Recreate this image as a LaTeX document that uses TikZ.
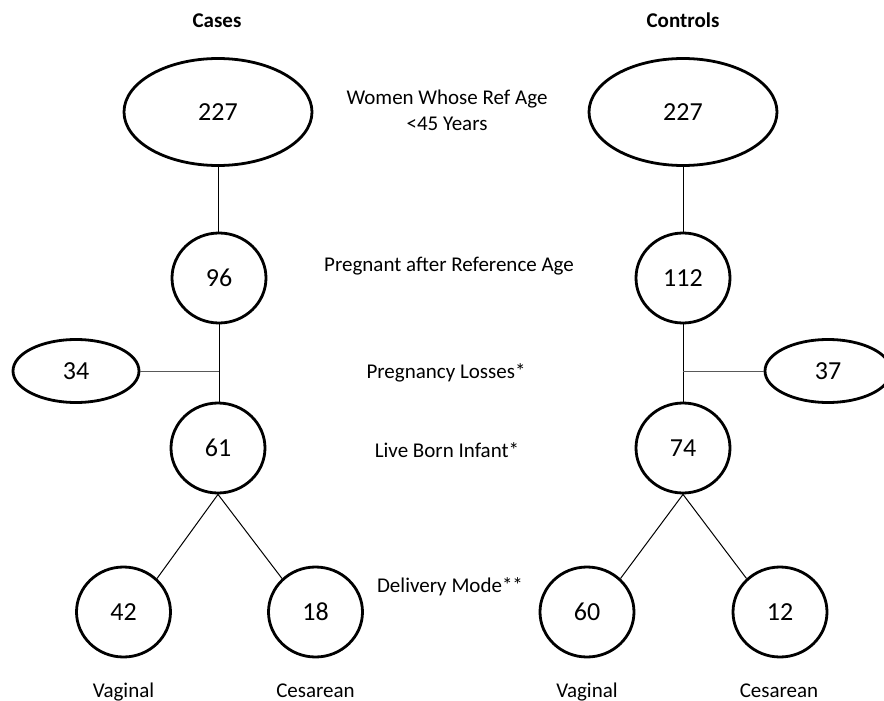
\documentclass[tikz,border=0pt]{standalone}
\usepackage{fontspec}
\setmainfont{Carlito}
\usetikzlibrary{shapes.geometric}
\begin{document}
\begin{tikzpicture}[x=1pt,y=-1pt,
  bub/.style={draw, ellipse, line width=2.8pt, inner sep=0pt, font=\fontsize{26}{30}\selectfont},
  big/.style={bub, minimum width=188pt, minimum height=107pt},
  rnd/.style={bub, minimum width=94pt, minimum height=90pt},
  loss/.style={bub, minimum width=126pt, minimum height=63pt},
  lbl/.style={anchor=base, inner sep=0pt, font=\fontsize{21}{25}\selectfont},
  hdr/.style={anchor=base, inner sep=0pt, font=\bfseries\fontsize{21}{25}\selectfont},
  link/.style={line width=1pt},
  side/.style={line width=1pt, black!65}]
\useasboundingbox (0,0) rectangle (884,701);
\fill[white] (0,0) rectangle (884,701);

% headers
\node[hdr] (hcases) at (217,28) {Cases};
\node[hdr] (hcontrols) at (683,28) {Controls};

% middle labels
\node[lbl] (lwomen) at (447,104) {Women Whose Ref Age};
\node[lbl] (lyears) at (447,130) {<45 Years};
\node[lbl] (lpreg) at (449,271) {Pregnant after Reference Age};
\node[lbl] (lloss) at (446,378) {Pregnancy Losses*};
\node[lbl] (llive) at (447,457) {Live Born Infant*};
\node[lbl] (ldel) at (450,592) {Delivery Mode**};

% cases column
\node[big] (topL) at (218,112) {227};
\node[rnd] (c96) at (219,278) {96};
\coordinate (jL) at (219,371);
\node[loss] (e34) at (76,371) {34};
\node[rnd] (c61) at (218,448) {61};
\node[rnd] (c42) at (123.5,612) {42};
\node[rnd] (c18) at (315.5,612) {18};

% controls column
\node[big] (topR) at (683,112) {227};
\node[rnd] (c112) at (683,278) {112};
\coordinate (jR) at (683,371);
\node[loss] (e37) at (828,371) {37};
\node[rnd] (c74) at (683,448) {74};
\node[rnd] (c60) at (587,612) {60};
\node[rnd] (c12) at (780,612) {12};

% bottom labels
\node[lbl] (vagL) at (123.5,697) {Vaginal};
\node[lbl] (cesL) at (315.5,697) {Cesarean};
\node[lbl] (vagR) at (587,697) {Vaginal};
\node[lbl] (cesR) at (779,697) {Cesarean};

% connectors
\draw[link] (topL.south) -- (topL.south |- c96.north);
\draw[link] (c96.south) -- (c96.south |- c61.north);
\draw[side] (e34.east) -- (jL);
\draw[link] (c61.south) -- (c42.45);
\draw[link] (c61.south) -- (c18.135);

\draw[link] (topR.south) -- (c112.north);
\draw[link] (c112.south) -- (c74.north);
\draw[side] (e37.west) -- (jR);
\draw[link] (c74.south) -- (c60.45);
\draw[link] (c74.south) -- (c12.135);
\end{tikzpicture}
\end{document}
